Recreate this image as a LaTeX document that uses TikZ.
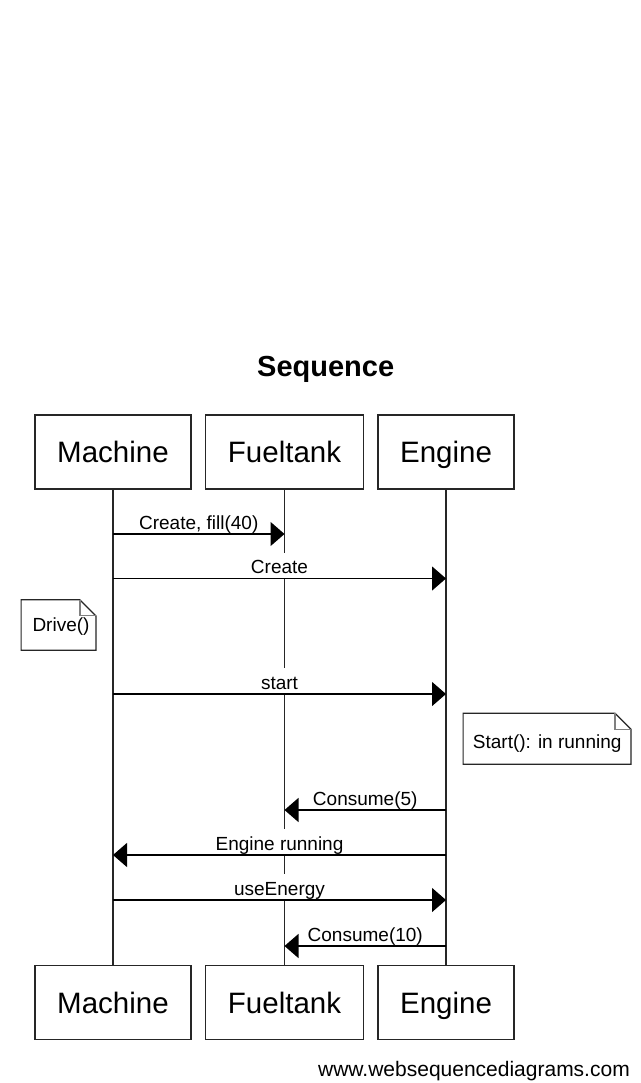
\documentclass[tikz,border=0pt]{standalone}
\usepackage{fontspec}
\setmainfont{Liberation Sans}
\usetikzlibrary{arrows.meta,calc}
\begin{document}
\begin{tikzpicture}[x=1pt,y=-1pt,
  actor/.style={draw=black!85, line width=1.4pt, minimum width=#1, minimum height=74pt,
    inner sep=0pt, font=\fontsize{29.5}{30}\selectfont, text height=21.1pt, text depth=0pt},
  life/.style={draw=black!85, line width=1.3pt},
  msg/.style={draw=black, line width=1.3pt, -{Triangle[length=14pt,width=24pt]}},
  lbl/.style={font=\fontsize{19}{20}\selectfont, fill=white, inner xsep=2pt, inner ysep=2pt,
    text height=19pt, text depth=3pt, anchor=base},
  notebox/.style={draw=none, inner sep=0pt},
  noteline/.style={draw=black!85, line width=1.2pt, line join=miter},
  foldline/.style={draw=black!50, line width=1.2pt},
  notetxt/.style={font=\fontsize{19}{20}\selectfont, inner sep=0pt, anchor=base west},
  titletxt/.style={font=\bfseries\fontsize{29}{30}\selectfont, inner sep=0pt, anchor=base},
  foot/.style={font=\fontsize{21}{22}\selectfont, inner sep=0pt, anchor=base east}
]
\useasboundingbox[fill=white] (0,0) rectangle (640,1083);

% title
\node[titletxt] (title) at (325.7,376.7) {Sequence};

% participants
\node[actor=156pt] (Mt) at (113,452) {Machine};
\node[actor=158pt] (Ft) at (284.5,452) {Fueltank};
\node[actor=136pt] (Et) at (446,452) {Engine};
\node[actor=156pt] (Mb) at (113,1002.5) {Machine};
\node[actor=158pt] (Fb) at (284.5,1002.5) {Fueltank};
\node[actor=136pt] (Eb) at (446,1002.5) {Engine};

% lifelines
\draw[life] (Mt.south) -- (Mb.north);
\draw[life] (Ft.south) -- (Fb.north);
\draw[life] (Et.south) -- (Eb.north);

% message end points
\coordinate (m1) at (113,534);   \coordinate (f1) at (284.5,534);
\coordinate (m2) at (113,578.5); \coordinate (e2) at (446,578.5);
\coordinate (m3) at (113,694);   \coordinate (e3) at (446,694);
\coordinate (e4) at (446,810);   \coordinate (f4) at (284.5,810);
\coordinate (e5) at (446,855);   \coordinate (m5) at (113,855);
\coordinate (m6) at (113,900);   \coordinate (e6) at (446,900);
\coordinate (e7) at (446,946);   \coordinate (f7) at (284.5,946);

% labels
\node[lbl] (l1) at ($(m1)!0.5!(f1)+(0,-4.7)$) {Create, fill(40)};
\node[lbl] (l2) at ($(m2)!0.5!(e2)+(0,-4.7)$) {Create};
\node[lbl] (l3) at ($(m3)!0.5!(e3)+(0,-4.7)$) {start};
\node[lbl] (l4) at ($(e4)!0.5!(f4)+(0,-4.7)$) {Consume(5)};
\node[lbl] (l5) at ($(e5)!0.5!(m5)+(0,-4.7)$) {Engine running};
\node[lbl] (l6) at ($(m6)!0.5!(e6)+(0,-4.7)$) {useEnergy};
\node[lbl] (l7) at ($(e7)!0.5!(f7)+(0,-4.7)$) {Consume(10)};

% messages
\draw[msg] (m1) -- (f1);
\draw[msg] (m2) -- (e2);
\draw[msg] (m3) -- (e3);
\draw[msg] (e4) -- (f4);
\draw[msg] (e5) -- (m5);
\draw[msg] (m6) -- (e6);
\draw[msg] (e7) -- (f7);

% notes
\node[notebox, minimum width=74.4pt, minimum height=50pt] (drive) at (58.5,625) {};
\draw[noteline] (drive.north west) -- ($(drive.north east)+(-16,0)$) -- ($(drive.north east)+(0,16)$)
  -- (drive.south east) -- (drive.south west) -- cycle;
\draw[foldline] ($(drive.north east)+(-16,0)$) -- ($(drive.north east)+(-16,16)$) -- ($(drive.north east)+(0,16)$);
\node[notetxt] (drivetxt) at (32.3,631.5) {Drive()};

\node[notebox, minimum width=167.4pt, minimum height=50.7pt] (startn) at (547,738.7) {};
\draw[noteline] (startn.north west) -- ($(startn.north east)+(-16,0)$) -- ($(startn.north east)+(0,16)$)
  -- (startn.south east) -- (startn.south west) -- cycle;
\draw[foldline] ($(startn.north east)+(-16,0)$) -- ($(startn.north east)+(-16,16)$) -- ($(startn.north east)+(0,16)$);
\node[notetxt] (starttxt) at (472.7,748.5) {Start(): in running};

% footer
\node[foot] (footer) at (630,1076) {www.websequencediagrams.com};
\end{tikzpicture}
\end{document}
